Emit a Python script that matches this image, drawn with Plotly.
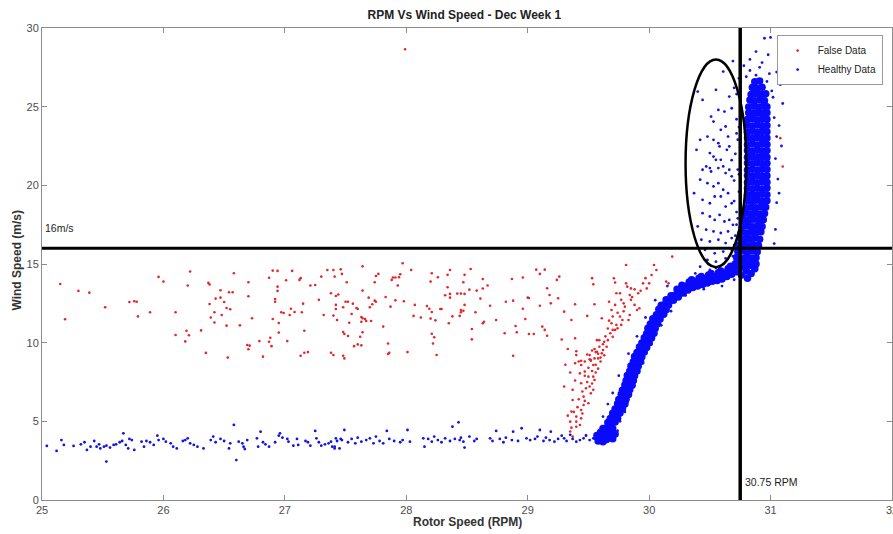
import plotly.graph_objects as go

# ---------------- False Data (red) ----------------
false_rpm_field = [
    25.15, 25.19, 25.30, 25.39, 25.52, 25.72, 25.76, 25.78, 25.79, 25.89,
    25.96, 26.00, 26.10, 26.10, 26.18, 26.19, 26.21, 26.20, 26.22, 26.31,
    26.35, 26.37, 26.38, 26.38, 26.39, 26.42, 26.42, 26.43, 26.47, 26.47,
    26.48, 26.50, 26.52, 26.52, 26.53, 26.54, 26.57, 26.55, 26.58, 26.63,
    26.69, 26.71, 26.70, 26.70, 26.70, 26.73, 26.79, 26.82, 26.87, 26.88,
    26.87, 26.89, 26.90, 26.94, 26.90, 26.92, 26.92, 26.94, 26.94, 26.95,
    26.95, 26.97, 26.99, 27.01, 27.02, 27.04, 27.05, 27.06, 27.08, 27.12,
    27.13, 27.13, 27.16, 27.19, 27.14, 27.15, 27.16, 27.21,
    27.25, 27.28, 27.30, 27.32, 27.35, 27.40, 27.46, 27.38, 27.41, 27.47,
    27.42, 27.44, 27.42, 27.42, 27.40, 27.43, 27.48, 27.51, 27.50, 27.52,
    27.53, 27.55, 27.56, 27.48, 27.49, 27.52, 27.38, 27.40, 27.48, 27.49,
    27.57, 27.60, 27.63, 27.59, 27.60, 27.62, 27.63, 27.64, 27.66, 27.64,
    27.63, 27.67, 27.71, 27.64, 27.64, 27.69, 27.70, 27.72, 27.74, 27.75,
    27.74, 27.75, 27.77, 27.81, 27.83, 27.85, 27.85, 27.86, 27.87, 27.88,
    27.89, 27.91, 27.94, 27.91, 27.93, 27.95, 27.97, 27.98, 28.01, 28.04,
    28.06, 28.07, 28.12, 28.17, 28.19, 28.21, 28.20, 28.20, 28.24, 28.21,
    28.23, 28.22, 28.21, 28.25, 28.26, 28.28, 28.29, 28.32, 28.34, 28.36,
    28.34, 28.35, 28.36, 28.36, 28.38, 28.42, 28.45, 28.48, 28.44, 28.45,
    28.47, 28.45, 28.47, 28.48, 28.48, 28.52, 28.53, 28.54, 28.54, 28.58,
    28.63, 28.57, 28.61, 28.63, 28.64, 28.63, 28.67, 28.69, 28.74, 28.82,
    28.81, 28.87, 28.88, 28.88, 28.90, 28.91, 28.96, 28.96, 28.98, 29.00,
    29.01, 29.01, 29.05, 29.07, 29.10, 29.14, 29.10, 29.12, 29.14, 29.16,
    29.16, 29.18, 29.19, 29.24, 29.26, 29.25, 29.30, 29.36, 29.39, 29.39,
    29.49, 29.53, 29.54, 29.55,
]
false_wind_field = [
    13.73, 11.49, 13.29, 13.18, 12.25, 12.58, 12.63, 12.60, 11.67, 11.93,
    14.18, 13.88, 11.93, 10.49, 10.08, 10.76, 10.47, 13.63, 14.52, 10.78,
    9.35, 13.80, 13.70, 12.46, 11.60, 11.93, 11.28, 12.80, 13.33, 12.86,
    11.76, 12.58, 12.20, 11.08, 9.05, 13.20, 13.20, 12.12, 14.41, 11.10,
    9.85, 9.81, 9.58, 13.84, 12.95, 11.55, 10.10, 9.11, 14.13, 10.31,
    10.06, 9.78, 14.58, 14.56, 11.50, 12.78, 12.60, 13.29, 13.56, 11.25,
    10.64, 11.93, 11.89, 13.97, 10.10, 11.76, 12.16, 14.56, 11.95, 13.99,
    14.10, 9.17, 9.36, 9.40, 11.93, 12.48, 10.76, 13.63,
    13.67, 12.72, 14.20, 11.76, 14.62, 14.62, 14.66, 13.14, 14.20, 14.37,
    12.97, 13.06, 12.40, 12.14, 11.72, 11.44, 12.25, 13.84, 12.60, 12.60,
    11.27, 11.82, 12.48, 10.68, 10.55, 10.42, 9.36, 9.22, 9.17, 9.00,
    9.78, 9.89, 9.83, 12.20, 12.14, 10.38, 11.63, 11.55, 11.50, 10.66,
    11.33, 11.38, 11.38, 13.31, 14.85, 12.86, 12.25, 12.44, 12.67, 12.60,
    13.84, 14.24, 14.37, 11.02, 12.90, 9.95, 9.28, 9.36, 12.29, 13.99,
    14.14, 14.14, 14.16, 12.69, 13.63, 14.35, 15.05, 12.63, 9.40, 14.62,
    11.70, 12.40, 11.60, 12.33, 12.16, 11.95, 13.88, 11.53, 11.42, 10.57,
    10.34, 9.95, 14.41, 9.22, 14.16, 12.14, 12.14, 13.01, 14.31, 14.62,
    13.52, 11.23, 13.10, 12.86, 11.67, 13.12, 13.12, 13.10, 11.70, 11.93,
    12.03, 12.08, 13.84, 12.40, 14.31, 13.37, 14.68, 10.87, 10.21, 13.31,
    13.44, 11.93, 12.80, 11.23, 11.33, 14.05, 13.63, 12.35, 11.44, 12.60,
    10.60, 14.05, 9.17, 12.67, 11.06, 10.66, 12.16, 14.14, 11.50, 12.86,
    12.84, 10.55, 10.55, 14.64, 14.37, 14.64, 12.35, 11.02, 10.81, 10.44,
    13.46, 13.03, 12.50, 13.99, 14.20, 12.82, 11.97, 11.44, 12.44, 10.28,
    11.70, 14.10, 13.71, 12.44,
]
false_rpm_band = [
    29.40, 29.44, 29.49, 29.51, 29.53, 29.55, 29.56, 29.58, 29.52, 29.47, 29.42,
    29.61, 29.67, 29.69, 29.70, 29.71, 29.72, 29.73, 29.76, 29.77, 29.79,
    29.80, 29.81, 29.81, 29.82, 29.85, 29.84, 29.85, 29.88, 29.90, 29.92,
    29.88, 29.91, 29.95, 29.98, 30.00, 30.04, 30.06, 30.14, 30.16, 30.19,
    29.72, 29.74, 29.77, 29.73, 29.68, 29.70, 29.76, 29.78, 29.83, 29.84,
    29.62, 29.61, 29.65, 29.63, 29.66, 29.59, 29.59, 29.57, 29.69, 29.70,
    29.57, 29.58, 29.55, 29.52, 29.54, 29.51, 29.44, 29.43, 29.47, 29.50,
    29.40, 29.39, 29.54, 29.51, 29.30, 29.37, 29.44, 29.46, 29.52, 29.54,
    29.55, 29.46, 29.50, 29.44, 29.37, 29.36, 29.40, 29.35, 29.43, 29.40,
    29.35, 29.37, 29.33, 29.40, 29.36, 29.44, 29.48,
    29.47, 29.49, 29.53, 29.56, 29.58, 29.60, 29.62, 29.64, 29.66, 29.67,
    29.72, 29.74, 29.79, 29.86, 29.93, 29.97, 30.02, 29.45, 29.48, 29.42,
    29.41, 29.45, 29.38, 29.50, 29.60, 29.63, 29.56, 29.53, 29.47, 29.39,
    29.35, 29.31, 29.33, 29.28, 27.99, 31.10, 31.08,
]
false_wind_band = [
    9.45, 8.85, 9.25, 8.95, 9.50, 9.60, 9.40, 9.30, 8.85, 8.80, 8.80,
    11.55, 12.60, 12.08, 11.66, 14.09, 13.82, 13.14, 13.14, 12.72, 12.50,
    12.29, 14.94, 13.77, 13.56, 13.45, 13.03, 12.72, 12.40, 12.08, 12.19,
    13.39, 13.14, 13.77, 13.45, 13.77, 14.94, 14.62, 13.88, 13.77, 15.47,
    10.81, 10.92, 11.13, 11.13, 10.60, 10.38, 11.66, 11.44, 11.44, 11.76,
    9.53, 9.32, 9.74, 10.06, 10.16, 10.16, 9.74, 10.16, 11.23, 10.81,
    9.42, 9.00, 9.00, 8.90, 8.58, 9.21, 8.58, 8.05, 8.16, 7.84,
    9.21, 8.69, 7.84, 7.21, 7.21, 7.00, 7.42, 6.57, 6.78, 7.00,
    7.63, 6.04, 6.15, 5.72, 6.36, 5.62, 5.30, 4.98, 4.77, 4.66,
    4.35, 4.03, 5.36, 4.98, 4.60, 5.19, 4.13,
    7.90, 7.50, 8.20, 8.60, 8.35, 9.05, 9.90, 10.40, 10.90, 11.40,
    12.40, 11.90, 12.00, 12.90, 13.30, 14.10, 14.30, 6.90, 7.10, 6.40,
    5.90, 5.50, 5.60, 8.40, 8.80, 9.20, 8.10, 7.40, 6.30, 7.60,
    8.10, 8.60, 9.60, 10.20, 28.65, 21.20, 23.00,
]

# ---------------- Healthy Data (blue), sparse parts ----------------
strip_rpm = [
    25.04, 25.12, 25.16, 25.18, 25.26, 25.32, 25.35, 25.37, 25.40, 25.43,
    25.45, 25.47, 25.48, 25.51, 25.53, 25.53, 25.56, 25.59, 25.61, 25.64,
    25.66, 25.67, 25.69, 25.71, 25.72, 25.74, 25.76, 25.82, 25.84, 25.86,
    25.89, 25.92, 25.95, 25.96, 26.00, 26.02, 26.06, 26.08, 26.11, 26.16,
    26.18, 26.20, 26.22, 26.25, 26.28, 26.33, 26.39, 26.41, 26.43, 26.47,
    26.50, 26.54, 26.55, 26.58, 26.60, 26.62, 26.65, 26.66, 26.67, 26.69,
    26.77, 26.78, 26.80, 26.82, 26.84, 26.87, 26.92, 26.95, 26.96, 26.98,
    27.02, 27.03, 27.07, 27.10, 27.11, 27.17, 27.19, 27.21, 27.25, 27.26,
    27.28, 27.30, 27.33, 27.36, 27.39, 27.41, 27.43, 27.46,
    27.38, 27.41, 27.42, 27.45, 27.47, 27.49, 27.52, 27.55, 27.58, 27.60,
    27.63, 27.67, 27.70, 27.73, 27.75, 27.78, 27.81, 27.84, 27.86, 27.90,
    27.95, 27.97, 28.01, 28.03, 28.14, 28.15, 28.18, 28.21, 28.23, 28.26,
    28.29, 28.32, 28.36, 28.38, 28.40, 28.43, 28.44, 28.45, 28.47, 28.48,
    28.52, 28.56, 28.58, 28.69, 28.71, 28.74, 28.77, 28.80, 28.82, 28.87,
    28.88, 28.92, 28.95, 28.99, 29.02, 29.06, 29.08, 29.10, 29.13, 29.15,
    29.18, 29.19, 29.22, 29.25, 29.28, 29.30, 29.32, 29.35, 29.37, 29.40,
    29.43, 29.46, 29.48, 29.51, 29.54, 29.56,
]
strip_wind = [
    3.44, 3.12, 3.81, 3.50, 3.44, 3.54, 3.67, 3.18, 3.39, 3.75,
    3.39, 3.54, 3.28, 3.39, 2.44, 3.45, 3.33, 3.50, 3.54, 3.67,
    3.75, 4.24, 3.50, 3.28, 3.88, 3.81, 3.18, 3.71, 3.39, 3.75,
    3.67, 3.50, 4.09, 3.81, 3.88, 3.71, 3.60, 3.39, 3.28, 3.75,
    3.81, 3.92, 3.60, 3.50, 3.39, 3.28, 3.81, 4.03, 3.67, 3.88,
    3.75, 3.28, 3.60, 4.77, 2.54, 3.71, 3.60, 3.39, 3.24, 3.81,
    3.92, 3.39, 4.34, 3.67, 3.54, 3.39, 3.67, 4.09, 4.24, 3.96,
    3.88, 3.71, 3.45, 3.88, 3.50, 3.75, 3.67, 3.45, 4.39, 3.92,
    3.67, 3.45, 3.54, 3.60, 3.39, 3.28, 3.75, 3.88,
    3.71, 3.39, 3.92, 3.28, 3.81, 4.45, 3.67, 3.88, 3.60, 3.96,
    3.71, 3.81, 3.92, 3.60, 4.03, 3.75, 3.60, 4.39, 3.88, 3.75,
    3.67, 3.81, 4.45, 3.71, 3.92, 3.39, 3.88, 3.71, 4.03, 3.81,
    3.67, 3.92, 3.75, 4.66, 3.88, 4.94, 3.81, 3.96, 3.71, 3.33,
    4.03, 3.75, 3.88, 3.92, 3.75, 4.39, 3.88, 3.67, 3.96, 3.81,
    4.34, 3.75, 4.56, 3.92, 3.81, 3.88, 4.03, 4.45, 3.75, 3.96,
    3.81, 4.34, 3.71, 3.88, 4.09, 3.92, 3.75, 4.14, 3.88, 3.71,
    3.81, 3.92, 4.09, 3.81, 3.92, 3.96,
]
scatter_rpm = [
    30.61, 30.55, 30.40, 30.44, 30.66, 30.57, 30.51, 30.53, 30.62, 30.68,
    30.59, 30.63, 30.42, 30.48, 30.53, 30.57, 30.58, 30.64, 30.66, 30.65,
    30.39, 30.50, 30.53, 30.55, 30.59, 30.61, 30.57, 30.47, 30.50, 30.51,
    30.44, 30.63, 30.66, 30.68, 30.42, 30.48, 30.53, 30.57, 30.61, 30.65,
    30.59, 30.37, 30.44, 30.50, 30.54, 30.63, 30.68, 30.44, 30.50, 30.54,
    30.58, 30.62, 30.66, 30.69, 30.40, 30.47, 30.53, 30.59, 30.65, 30.43,
    30.50, 30.57, 30.63, 30.68, 30.46, 30.54, 30.61, 30.68, 30.48, 30.55,
    30.63, 30.42, 30.50, 30.58,
    30.70, 30.72, 30.71, 30.70, 30.73, 30.70, 30.69, 30.74, 30.72, 30.68,
    30.95, 31.00, 30.88, 30.69, 30.83, 30.98, 30.78, 31.05, 30.93, 31.08,
    31.10, 31.07, 31.09, 30.74, 30.72,
    30.71, 30.72, 30.74, 30.73, 30.75, 30.74, 30.76, 30.72, 30.70, 30.73,
    31.04, 31.05, 31.06, 31.04, 31.05, 31.03, 31.02, 31.07, 31.03, 30.97,
    30.99, 30.83, 30.88, 30.91, 30.80, 31.01,
    29.76, 29.62, 29.82, 29.70, 29.88, 29.75, 29.95, 29.83, 30.02, 29.90,
    30.10, 29.97, 30.18, 30.05, 30.30, 30.15, 30.45, 30.38, 30.60, 30.55,
    30.70, 29.74, 29.55, 29.80, 29.66,
]
scatter_wind = [
    27.23, 26.07, 25.96, 25.43, 25.64, 24.79, 24.37, 24.05, 24.69, 24.90,
    23.53, 23.74, 22.89, 23.10, 22.89, 22.68, 22.47, 22.26, 22.47, 23.10,
    22.26, 22.05, 21.83, 21.62, 21.62, 21.20, 21.10, 21.20, 21.10, 20.88,
    20.99, 20.78, 20.99, 20.57, 20.36, 20.14, 19.93, 20.14, 19.72, 19.50,
    19.29, 19.50, 19.08, 18.86, 19.29, 18.65, 18.86, 18.23, 18.02, 17.80,
    18.12, 17.70, 17.80, 17.49, 17.39, 17.18, 17.07, 16.97, 17.07, 16.54,
    16.43, 16.54, 16.33, 16.65, 15.90, 15.68, 15.79, 15.90, 15.26, 15.15,
    15.36, 14.83, 14.62, 14.73,
    26.20, 24.20, 22.00, 19.00, 17.90, 16.20, 15.50, 20.70, 23.30, 21.60,
    29.35, 29.40, 28.50, 27.90, 28.00, 28.30, 27.60, 27.20, 27.80, 26.40,
    25.20, 23.80, 22.50, 26.80, 25.80,
    16.80, 18.30, 19.60, 21.00, 22.40, 23.70, 24.90, 17.50, 20.30, 22.90,
    17.20, 18.90, 20.40, 21.70, 23.10, 24.30, 25.60, 19.50, 16.30, 26.60,
    27.10, 27.30, 27.00, 27.50, 26.90, 26.00,
    5.00, 5.30, 6.20, 6.80, 7.50, 7.90, 8.70, 9.30, 9.90, 10.40,
    11.10, 11.60, 12.00, 12.70, 13.00, 13.60, 13.40, 14.40, 13.60, 14.75,
    14.00, 4.40, 3.90, 5.60, 6.10,
]

# ---------------- Healthy Data (blue), dense curve core ----------------
core_rpm = [
    29.58, 29.60, 29.62, 29.63, 29.65, 29.67, 29.60, 29.64, 29.68, 29.70,
    29.66, 29.62, 29.70, 29.72, 29.57,
    29.66, 29.69, 29.72, 29.68, 29.71, 29.74, 29.70, 29.73, 29.76,
    29.72, 29.75, 29.78, 29.74, 29.77, 29.80, 29.75, 29.78, 29.81,
    29.77, 29.80, 29.83, 29.78, 29.81, 29.84, 29.80, 29.83, 29.86,
    29.81, 29.84, 29.87, 29.82, 29.85, 29.88, 29.84, 29.87, 29.90,
    29.85, 29.88, 29.91, 29.87, 29.90, 29.93, 29.88, 29.91, 29.94,
    29.90, 29.93, 29.96, 29.92, 29.95, 29.98, 29.94, 29.97, 30.00,
    29.96, 29.99, 30.02, 29.98, 30.01, 30.04, 29.99, 30.02, 30.05,
    30.01, 30.04, 30.07, 30.03, 30.06, 30.09, 30.06, 30.09, 30.12,
    30.08, 30.11, 30.14, 30.10, 30.13, 30.16, 30.14, 30.17, 30.20,
    30.18, 30.21, 30.24,
    30.24, 30.25, 30.23, 30.28, 30.29, 30.27, 30.32, 30.31, 30.33,
    30.36, 30.37, 30.35, 30.40, 30.39, 30.41, 30.44, 30.45, 30.43,
    30.48, 30.47, 30.49, 30.52, 30.53, 30.51, 30.56, 30.55, 30.57,
    30.60, 30.61, 30.59, 30.64, 30.63, 30.65, 30.68, 30.69, 30.67,
    30.72, 30.71, 30.73,
    30.76, 30.80, 30.84, 30.87, 30.78, 30.83, 30.88, 30.81,
    30.71, 30.75, 30.79, 30.83, 30.87, 30.72, 30.76, 30.80, 30.84, 30.88,
    30.73, 30.77, 30.81, 30.85, 30.89, 30.74, 30.78, 30.82, 30.86, 30.90,
    30.75, 30.79, 30.83, 30.87, 30.91, 30.76, 30.80, 30.84, 30.88, 30.92,
    30.77, 30.81, 30.85, 30.89, 30.93, 30.78, 30.82, 30.86, 30.90, 30.94,
    30.79, 30.83, 30.87, 30.91, 30.95, 30.80, 30.84, 30.88, 30.92, 30.96,
    30.81, 30.85, 30.89, 30.93, 30.97, 30.81, 30.85, 30.89, 30.93, 30.97,
    30.81, 30.85, 30.89, 30.93, 30.97, 30.81, 30.85, 30.89, 30.93, 30.97,
    30.81, 30.85, 30.89, 30.93, 30.97, 30.81, 30.85, 30.89, 30.93, 30.97,
    30.81, 30.85, 30.89, 30.93, 30.97, 30.81, 30.85, 30.89, 30.93, 30.97,
    30.81, 30.85, 30.89, 30.93, 30.97, 30.81, 30.85, 30.89, 30.93, 30.97,
    30.81, 30.85, 30.89, 30.93, 30.97, 30.81, 30.85, 30.89, 30.93, 30.97,
    30.81, 30.85, 30.89, 30.93, 30.97, 30.81, 30.85, 30.89, 30.93, 30.97,
    30.82, 30.86, 30.90, 30.94, 30.97, 30.82, 30.86, 30.90, 30.94, 30.97,
    30.83, 30.87, 30.91, 30.95, 30.84, 30.88, 30.92, 30.96,
    30.85, 30.89, 30.93, 30.87, 30.91,
]
core_wind = [
    3.75, 3.95, 3.70, 4.10, 3.85, 4.05, 4.30, 4.40, 4.30, 4.55,
    4.65, 4.55, 3.90, 4.20, 4.10,
    4.92, 4.86, 4.95, 5.18, 5.24, 5.20, 5.52, 5.47, 5.53,
    5.78, 5.83, 5.80, 6.12, 6.08, 6.10, 6.38, 6.42, 6.40,
    6.72, 6.68, 6.70, 6.98, 7.03, 7.00, 7.31, 7.27, 7.30,
    7.58, 7.62, 7.60, 7.92, 7.88, 7.90, 8.18, 8.22, 8.20,
    8.52, 8.48, 8.50, 8.78, 8.82, 8.80, 9.12, 9.08, 9.10,
    9.38, 9.42, 9.40, 9.72, 9.68, 9.70, 9.98, 10.02, 10.00,
    10.32, 10.28, 10.30, 10.58, 10.62, 10.60, 10.92, 10.88, 10.90,
    11.18, 11.22, 11.20, 11.52, 11.48, 11.50, 11.78, 11.82, 11.80,
    12.12, 12.08, 12.10, 12.38, 12.42, 12.40, 12.72, 12.68, 12.70,
    12.98, 13.02, 13.00,
    12.90, 13.15, 13.40, 13.15, 13.40, 13.65, 13.35, 13.60, 13.85,
    13.50, 13.75, 14.00, 13.60, 13.85, 14.10, 13.70, 13.95, 14.20,
    13.80, 14.05, 14.30, 13.90, 14.15, 14.40, 13.95, 14.20, 14.45,
    14.05, 14.30, 14.55, 14.20, 14.45, 14.70, 14.35, 14.60, 14.85,
    14.50, 14.75, 15.00,
    14.30, 14.55, 14.40, 14.70, 14.80, 14.90, 15.00, 14.10,
    15.02, 14.95, 15.06, 14.98, 15.04, 15.42, 15.37, 15.45, 15.36, 15.40,
    15.80, 15.85, 15.76, 15.83, 15.78, 16.20, 16.25, 16.16, 16.22, 16.18,
    16.63, 16.57, 16.61, 16.66, 16.58, 17.02, 16.97, 17.04, 16.99, 17.05,
    17.38, 17.43, 17.36, 17.42, 17.39, 17.81, 17.77, 17.84, 17.79, 17.82,
    18.22, 18.18, 18.24, 18.17, 18.21, 18.58, 18.63, 18.57, 18.62, 18.60,
    19.03, 18.98, 19.05, 18.97, 19.02, 19.38, 19.42, 19.37, 19.43, 19.40,
    19.82, 19.78, 19.81, 19.77, 19.83, 20.18, 20.23, 20.17, 20.22, 20.19,
    20.62, 20.58, 20.63, 20.57, 20.61, 20.98, 21.03, 20.97, 21.02, 21.00,
    21.42, 21.37, 21.43, 21.38, 21.41, 21.78, 21.82, 21.77, 21.83, 21.79,
    22.22, 22.17, 22.23, 22.18, 22.21, 22.58, 22.63, 22.57, 22.62, 22.60,
    23.02, 22.97, 23.03, 22.98, 23.01, 23.38, 23.43, 23.37, 23.42, 23.40,
    23.82, 23.77, 23.83, 23.78, 23.81, 24.18, 24.23, 24.17, 24.22, 24.20,
    24.62, 24.57, 24.63, 24.58, 24.61, 24.98, 25.03, 24.97, 25.02, 25.00,
    25.42, 25.37, 25.43, 25.38, 25.78, 25.83, 25.77, 25.82,
    26.22, 26.17, 26.23, 26.58, 26.63,
]

# ---------------- reference lines / labels ----------------
wind_threshold = 16
rpm_threshold = 30.75
ellipse_rpm = (30.30, 30.80)
ellipse_wind = (14.8, 28.0)
x_ticks = [25, 26, 27, 28, 29, 30, 31, 32]
y_ticks = [0, 5, 10, 15, 20, 25, 30]

FONT = "Liberation Sans, Arial, Helvetica, sans-serif"
RED = "#e3262b"
BLUE = "#1414e0"
BLUE_CORE = "#0a0aff"

fig = go.Figure()
fig.add_trace(go.Scatter(
    x=false_rpm_field + false_rpm_band, y=false_wind_field + false_wind_band,
    mode="markers", name="False Data",
    marker=dict(color=RED, size=2.6, line=dict(width=0)),
))
fig.add_trace(go.Scatter(
    x=strip_rpm + scatter_rpm, y=strip_wind + scatter_wind,
    mode="markers", name="Healthy Data", legendgroup="h",
    marker=dict(color=BLUE, size=2.8, line=dict(width=0)),
))
fig.add_trace(go.Scatter(
    x=core_rpm, y=core_wind, mode="markers", name="Healthy Data",
    legendgroup="h", showlegend=False,
    marker=dict(color=BLUE_CORE, size=7.5, line=dict(width=0)),
))

fig.add_shape(type="line", xref="x", yref="y", x0=25, x1=32,
              y0=wind_threshold, y1=wind_threshold,
              line=dict(color="black", width=3), layer="above")
fig.add_shape(type="line", xref="x", yref="y", x0=rpm_threshold, x1=rpm_threshold,
              y0=0, y1=30, line=dict(color="black", width=3.5), layer="above")
fig.add_shape(type="circle", xref="x", yref="y",
              x0=ellipse_rpm[0], x1=ellipse_rpm[1],
              y0=ellipse_wind[0], y1=ellipse_wind[1],
              line=dict(color="black", width=2.5), layer="above")

fig.add_annotation(x=25.01, y=17.3, xref="x", yref="y", text="16m/s",
                   showarrow=False, xanchor="left", yanchor="middle",
                   font=dict(family=FONT, size=10.5, color="#222"))
fig.add_annotation(x=30.77, y=1.15, xref="x", yref="y", text="30.75 RPM",
                   showarrow=False, xanchor="left", yanchor="middle",
                   font=dict(family=FONT, size=10.5, color="#222"))
fig.add_annotation(x=0.5, y=-0.047, xref="paper", yref="paper",
                   text="<b>Rotor Speed (RPM)</b>", showarrow=False,
                   xanchor="center", yanchor="middle",
                   font=dict(family=FONT, size=12, color="#333"))
fig.add_annotation(x=-0.029, y=0.508, xref="paper", yref="paper",
                   text="<b>Wind Speed (m/s)</b>", showarrow=False, textangle=-90,
                   xanchor="center", yanchor="middle",
                   font=dict(family=FONT, size=12, color="#333"))

axis_common = dict(
    showgrid=False, zeroline=False, showline=True, linecolor="#8c8c8c",
    linewidth=1, mirror="ticks", ticks="inside", ticklen=5, tickwidth=1,
    tickcolor="#8c8c8c", tickfont=dict(family=FONT, size=11, color="#4d4d4d"),
    ticklabeloverflow="allow", automargin=False,
)
fig.update_layout(
    width=893, height=534,
    margin=dict(l=42, r=1, t=28, b=34, autoexpand=False),
    paper_bgcolor="white", plot_bgcolor="white",
    title=dict(text="<b>RPM Vs Wind Speed - Dec Week 1</b>", x=0.52, xanchor="center",
               y=0.972, yanchor="middle", yref="container",
               font=dict(family=FONT, size=12, color="#222")),
    xaxis=dict(range=[25, 32], tickvals=x_ticks, **axis_common),
    yaxis=dict(range=[0, 30], tickvals=y_ticks, **axis_common),
    legend=dict(x=0.989, y=0.985, xanchor="right", yanchor="top",
                bgcolor="white", bordercolor="#999", borderwidth=1,
                font=dict(family=FONT, size=10, color="#222"),
                itemwidth=30, tracegroupgap=0),
    showlegend=True,
)

fig.write_html("out.html")
